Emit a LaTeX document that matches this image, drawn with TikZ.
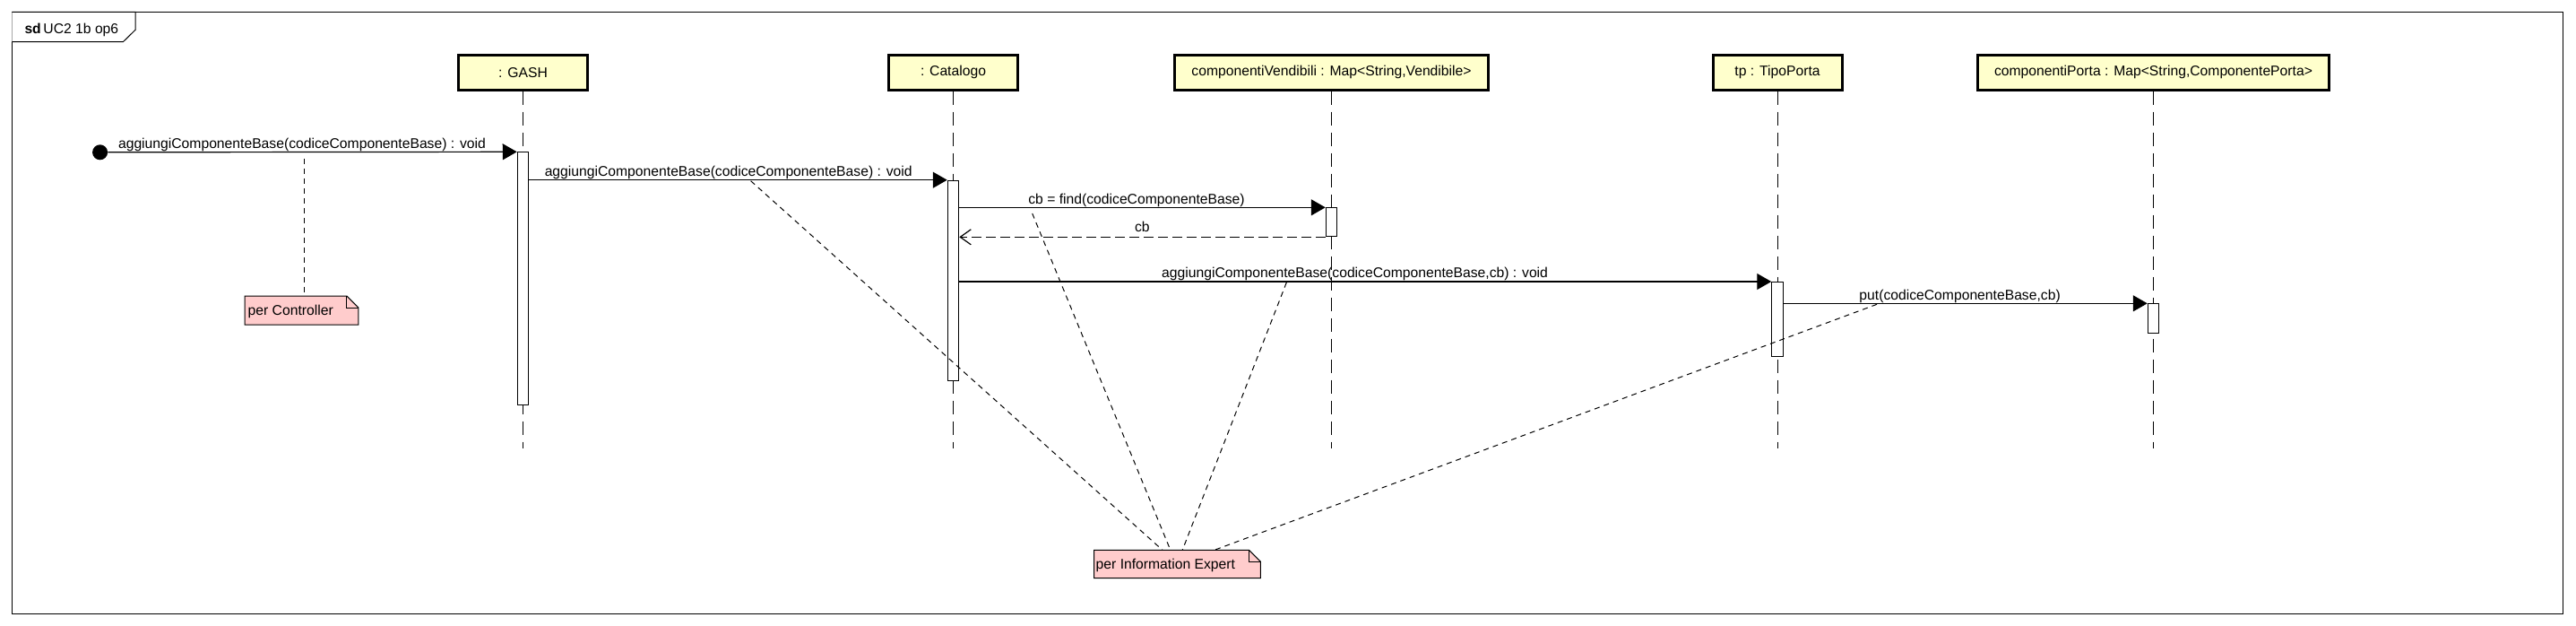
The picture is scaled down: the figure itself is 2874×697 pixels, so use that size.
\documentclass[tikz,border=0pt]{standalone}
\usepackage{fontspec}
\setmainfont{Liberation Sans}
\usetikzlibrary{arrows.meta}
\definecolor{lifey}{HTML}{FFFFCC}
\definecolor{notep}{HTML}{FFCCCC}
\begin{document}
\begin{tikzpicture}[x=1pt,y=-1pt,
  every node/.style={font=\fontsize{15.7}{18}\selectfont},
  objbox/.style={draw, line width=3pt, fill=lifey, minimum height=38.7pt, inner sep=0pt, anchor=center},
  lifeline/.style={line width=1pt, dash pattern=on 15pt off 8pt},
  actbox/.style={draw, line width=1pt, fill=white, minimum width=12.5pt, inner sep=0pt},
  msg/.style={line width=1.2pt, -{Triangle[length=16pt,width=18pt]}},
  ret/.style={line width=1.2pt, dash pattern=on 11pt off 5pt, -{Straight Barb[length=12pt,width=17pt,line width=1.2pt]}},
  lbl/.style={anchor=base, inner sep=0pt},
  notearea/.style={inner sep=0pt, anchor=north west},
  noteshape/.style={line width=1pt, fill=notep},
  notetext/.style={anchor=base west, inner sep=0pt},
  notelink/.style={line width=1pt, dash pattern=on 6pt off 5pt},
  framestyle/.style={line width=1pt},
]
\useasboundingbox (0,0) rectangle (2874,697);
% frame
\draw[framestyle] (13.3,13.3) rectangle (2859,684);
\draw[framestyle, fill=white] (13.3,13.3) -- (151,13.3) -- (151,33.3) -- (137.3,46.7) -- (13.3,46.7);
\node[anchor=base west, inner sep=0pt] (title) at (27.3,37.3) {\textbf{sd}\,UC2 1b op6};

% objects
\node[objbox, minimum width=144.4pt] (gash) at (583.5,80.85) {: GASH};
\node[objbox, minimum width=144.5pt] (cat) at (1063.5,80.85) {: Catalogo};
\node[objbox, minimum width=349.9pt] (vend) at (1485.5,80.85) {componentiVendibili : Map<String,Vendibile>};
\node[objbox, minimum width=144pt] (tp) at (1983,80.85) {tp : TipoPorta};
\node[objbox, minimum width=391.1pt] (porta) at (2402.5,80.85) {componentiPorta : Map<String,ComponentePorta>};

% lifelines
\coordinate (gashE) at (583.5,500);
\coordinate (catE) at (1063.5,500);
\coordinate (vendE) at (1485.5,500);
\coordinate (tpE) at (1983,500);
\coordinate (portaE) at (2402.5,500);
\draw[lifeline] (gash.south) -- (gashE);
\draw[lifeline] (cat.south) -- (catE);
\draw[lifeline] (vend.south) -- (vendE);
\draw[lifeline] (tp.south) -- (tpE);
\draw[lifeline] (porta.south) -- (portaE);

% activations
\node[actbox, minimum height=281.7pt] (a1) at (583.5,310.65) {};
\node[actbox, minimum height=223.3pt] (a2) at (1063.5,312.85) {};
\node[actbox, minimum height=32pt] (a3) at (1485.5,247.8) {};
\node[actbox, minimum height=83.3pt] (a4) at (1983,356.15) {};
\node[actbox, minimum height=33pt] (a5) at (2402.5,355.3) {};

% start point
\node[circle, fill=black, minimum size=17pt, inner sep=0pt] (start) at (111.6,169.8) {};

% messages
\draw[msg] (start) -- (a1.north west);
\draw[msg] (a2.north west -| a1.east) -- (a2.north west);
\draw[msg] (a3.north west -| a2.east) -- (a3.north west);
\draw[ret] (a3.south west) -- (a3.south west -| a2.east);
\draw[msg] (a4.north west -| a2.east) -- (a4.north west);
\draw[msg] (a5.north west -| a4.east) -- (a5.north west);

% labels
\node[lbl] (l1) at (337,165.3) {aggiungiComponenteBase(codiceComponenteBase) : void};
\node[lbl] (l2) at (812.7,196.7) {aggiungiComponenteBase(codiceComponenteBase) : void};
\node[lbl] (l3) at (1268,227.3) {cb = find(codiceComponenteBase)};
\node[lbl] (l4) at (1274.3,258.8) {cb};
\node[lbl] (l5) at (1511.6,309.3) {aggiungiComponenteBase(codiceComponenteBase,cb) : void};
\node[lbl] (l6) at (2186.6,334.3) {put(codiceComponenteBase,cb)};

% notes
\node[notearea, minimum width=126.5pt, minimum height=31.7pt] (noteC) at (273,330) {};
\node[notearea, minimum width=185.5pt, minimum height=31pt] (noteIE) at (1220.5,613.3) {};

% note links
\coordinate (c1) at (339.3,176.7);
\draw[notelink] (c1) -- (noteC.north -| c1);
\coordinate (e1) at (837.6,201.7);
\coordinate (e2) at (1151.7,238);
\coordinate (e3) at (1435.3,315);
\coordinate (e4) at (2094,339.3);
\draw[notelink] (e1) -- ([xshift=76.4pt]noteIE.north west);
\draw[notelink] (e2) -- ([xshift=85.3pt]noteIE.north west);
\draw[notelink] (e3) -- ([xshift=98.7pt]noteIE.north west);
\draw[notelink] (e4) -- ([xshift=134.4pt]noteIE.north west);

% note shapes
\foreach \n in {noteC,noteIE}{
  \draw[noteshape] (\n.north west) -- ([xshift=-13pt]\n.north east) -- ([yshift=-13pt]\n.north east) -- (\n.south east) -- (\n.south west) -- cycle;
  \draw[line width=1pt] ([xshift=-13pt]\n.north east) -- ([xshift=-13pt,yshift=-13pt]\n.north east) -- ([yshift=-13pt]\n.north east);
}
\node[notetext] (noteCt) at ([xshift=3.5pt,yshift=-21pt]noteC.north west) {per Controller};
\node[notetext] (noteIEt) at ([xshift=2pt,yshift=-21pt]noteIE.north west) {per Information Expert};
\end{tikzpicture}
\end{document}
